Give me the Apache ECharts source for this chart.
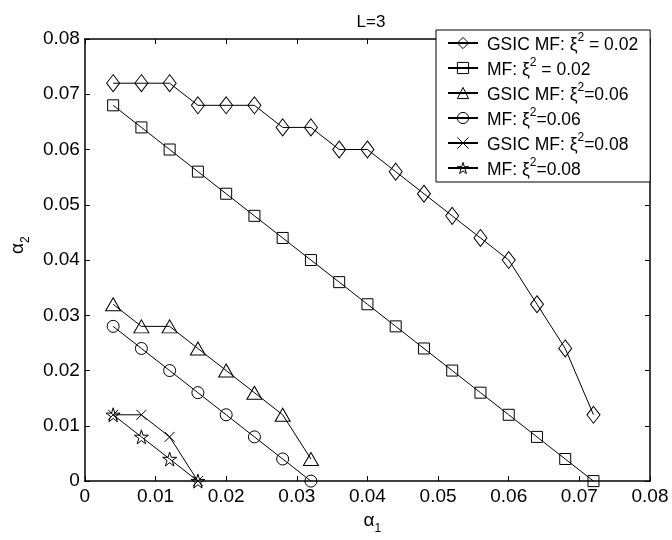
<!DOCTYPE html>
<html>
<head>
<meta charset="utf-8">
<script src="https://cdn.jsdelivr.net/npm/echarts@6/dist/echarts.min.js"></script>
<style>html,body{margin:0;padding:0;background:#fff}#c{width:672px;height:540px}</style>
</head>
<body>
<div id="c"></div>
<script>
// ---- data ----
var seriesNames = [
  'GSIC MF: ξ^2 = 0.02',
  'MF: ξ^2 = 0.02',
  'GSIC MF: ξ^2=0.06',
  'MF: ξ^2=0.06',
  'GSIC MF: ξ^2=0.08',
  'MF: ξ^2=0.08'
];
var xLong = [0.004,0.008,0.012,0.016,0.020,0.024,0.028,0.032,0.036,0.040,0.044,0.048,0.052,0.056,0.060,0.064,0.068,0.072];
var yGsic002 = [0.072,0.072,0.072,0.068,0.068,0.068,0.064,0.064,0.060,0.060,0.056,0.052,0.048,0.044,0.040,0.032,0.024,0.012];
var yMf002   = [0.068,0.064,0.060,0.056,0.052,0.048,0.044,0.040,0.036,0.032,0.028,0.024,0.020,0.016,0.012,0.008,0.004,0.000];
var xMid = [0.004,0.008,0.012,0.016,0.020,0.024,0.028,0.032];
var yGsic006 = [0.032,0.028,0.028,0.024,0.020,0.016,0.012,0.004];
var yMf006   = [0.028,0.024,0.020,0.016,0.012,0.008,0.004,0.000];
var xShort = [0.004,0.008,0.012,0.016];
var yGsic008 = [0.012,0.012,0.008,0.000];
var yMf008   = [0.012,0.008,0.004,0.000];
var tickValues = ['0','0.01','0.02','0.03','0.04','0.05','0.06','0.07','0.08'];
var titleText = 'L=3';

function zip(xs, ys){ return xs.map(function(x,i){ return [x, ys[i]]; }); }

var FONT = 'Liberation Sans, Arial, Helvetica, sans-serif';
var starPath = 'path://M50,2 L61,37 L98,37 L68,58 L79,94 L50,72 L21,94 L32,58 L2,37 L39,37 Z';
var xPath = 'path://M0,0 L10,10 M10,0 L0,10';

var symbols = [
  {symbol:'diamond', size:[13,17]},
  {symbol:'rect', size:11},
  {symbol:'triangle', size:[15,13]},
  {symbol:'circle', size:12},
  {symbol:xPath, size:10},
  {symbol:starPath, size:14}
];
var datasets = [
  zip(xLong, yGsic002), zip(xLong, yMf002),
  zip(xMid, yGsic006), zip(xMid, yMf006),
  zip(xShort, yGsic008), zip(xShort, yMf008)
];

var hollow = {color:'rgba(255,255,255,0)', borderColor:'#000', borderWidth:1};

var series = seriesNames.map(function(n, i){
  return {
    name: n, type: 'line', data: datasets[i],
    symbol: symbols[i].symbol, symbolSize: symbols[i].size,
    showAllSymbol: true,
    lineStyle: {color:'#000', width:1},
    itemStyle: hollow,
    emphasis: {disabled:true},
    animation: false, z: 3
  };
});

var axisCommon = {
  type:'value', min:0, max:0.08, interval:0.01,
  splitLine:{show:false},
  axisLine:{show:true, onZero:false, lineStyle:{color:'#000', width:1.5}},
  axisTick:{show:true, inside:true, length:5, lineStyle:{color:'#000', width:1}}
};
function ax(extra){ return Object.assign({}, JSON.parse(JSON.stringify(axisCommon)), extra); }
var labelFmt = function(v){ return tickValues[Math.round(v*100)]; };

var chart = echarts.init(document.getElementById('c'), null, {renderer:'canvas'});
chart.setOption({
  animation:false,
  backgroundColor:'#fff',
  title:{text:titleText, left:366, top:9, textAlign:'center',
    textStyle:{fontFamily:FONT, fontSize:17, fontWeight:'normal', color:'#000'}},
  grid:{left:84, top:39, right:22, bottom:55, containLabel:false},
  legend:{
    orient:'vertical', left:436, top:30, z:10,
    backgroundColor:'#fff', borderColor:'#000', borderWidth:1,
    padding:[2,12,3,11], itemGap:3, itemWidth:30, itemHeight:14,
    data: seriesNames.map(function(n){ return {name:n, itemStyle:hollow}; }),
    formatter:function(n){ return n.replace(/^(.*)\^2(.*)$/, '{b|$1}{sup|2}{b|$2}'); },
    textStyle:{fontFamily:FONT, fontSize:17.5, color:'#000', padding:[0,0,0,4],
      rich:{
        b:{fontFamily:FONT, fontSize:17.5, color:'#000', lineHeight:22, verticalAlign:'bottom'},
        sup:{fontFamily:FONT, fontSize:12, color:'#000', lineHeight:11, verticalAlign:'top'}
      }}
  },
  xAxis:[
    ax({position:'bottom', axisLabel:{show:true, margin:6, formatter:labelFmt,
      fontFamily:FONT, fontSize:19, color:'#000'},
      name:'{a|α}{s|1}', nameLocation:'middle', nameGap:26,
      nameTextStyle:{padding:[0,0,0,10], rich:{
        a:{fontFamily:FONT, fontSize:19, color:'#000', lineHeight:24, verticalAlign:'top'},
        s:{fontFamily:FONT, fontSize:12, color:'#000', lineHeight:12, verticalAlign:'bottom'}}}}),
    ax({position:'top', axisLabel:{show:false}})
  ],
  yAxis:[
    ax({position:'left', axisLabel:{show:true, margin:5, formatter:labelFmt,
      fontFamily:FONT, fontSize:19, color:'#000'},
      name:'{a|α}{s|2}', nameLocation:'middle', nameGap:52, nameRotate:90,
      nameTextStyle:{padding:[0,0,0,30], rich:{
        a:{fontFamily:FONT, fontSize:19, color:'#000', lineHeight:24, verticalAlign:'top'},
        s:{fontFamily:FONT, fontSize:12, color:'#000', lineHeight:12, verticalAlign:'bottom'}}}}),
    ax({position:'right', axisLabel:{show:false}})
  ],
  series: series
});
</script>
</body>
</html>
